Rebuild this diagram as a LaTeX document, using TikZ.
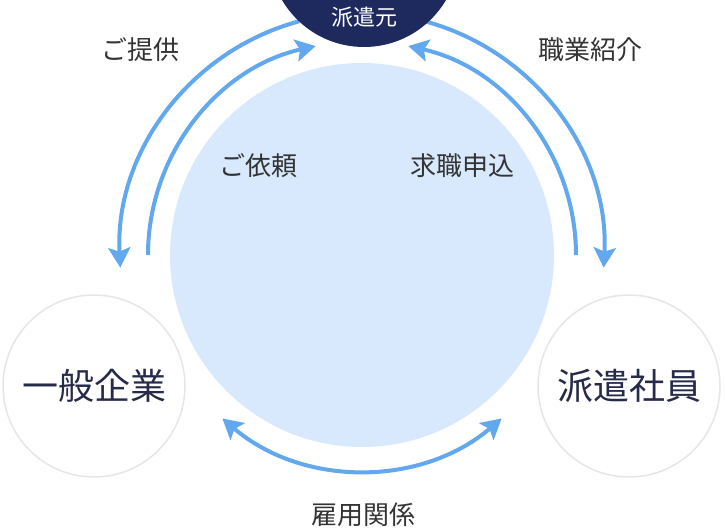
\documentclass[tikz,border=0pt]{standalone}
\usepackage{fontspec}
\setmainfont{Noto Sans CJK JP}
\usepackage{xcolor}
\definecolor{HakenNavy}{HTML}{1E2A5E}
\definecolor{ArrowBlue}{HTML}{62A8EE}
\definecolor{HubBlue}{HTML}{D8E9FD}
\definecolor{RingGray}{HTML}{E6E6E6}
\definecolor{LabelGray}{HTML}{333333}
\definecolor{PartyText}{HTML}{262B4A}
\usetikzlibrary{arrows.meta,positioning,calc}

\begin{document}
\begin{tikzpicture}[x=1pt,y=1pt, every node/.style={align=center, inner sep=0pt},
    party/.style={circle, draw=RingGray, line width=1.5pt, fill=white, minimum size=182pt, text=PartyText, font=\fontsize{36}{40}\selectfont},
    flowlabel/.style={text=LabelGray, font=\fontsize{26}{30}\selectfont},
    flowarrow/.style={draw=ArrowBlue, line width=4pt, -{Stealth[length=20pt, width=22pt, inset=4pt]}}]
        \useasboundingbox (0,0) rectangle (725,528);
        \clip (0,0) rectangle (725,528);
        \node[circle, fill=HubBlue, minimum size=384pt] (hub) at (362,273) {};
        \node[party] (kigyo) at (94,142) {一般企業};
        \node[party] (shain) at (629,142) {派遣社員};
        % arcs round the hub
        \draw[flowarrow] ([shift={(105:242)}]hub.center) arc[start angle=105, end angle=183, radius=242];
        \draw[flowarrow] ([shift={(180:214)}]hub.center) arc[start angle=180, end angle=102.5, radius=214];
        \draw[flowarrow] ([shift={(75:242)}]hub.center) arc[start angle=75, end angle=-3, radius=242];
        \draw[flowarrow] ([shift={(0:214)}]hub.center) arc[start angle=0, end angle=77.5, radius=214];
        \draw[flowarrow, {Stealth[length=20pt, width=22pt, inset=4pt]}-{Stealth[length=20pt, width=22pt, inset=4pt]}] ([shift={(229.5:215)}]hub.center) arc[start angle=229.5, end angle=310.5, radius=215];
        \node[circle, fill=HakenNavy, minimum size=190pt] (haken) at (364,576) {};
        \node[text=white, font=\fontsize{22}{26}\selectfont] (hakenlabel) at ([yshift=-65pt]haken.center) {派遣元};
        \node[flowlabel] (teikyo) at (140,478) {ご提供};
        \node[flowlabel] (shokai) at (590,478) {職業紹介};
        \node[flowlabel] (irai) at (258,362) {ご依頼};
        \node[flowlabel] (kyushoku) at (462,362) {求職申込};
        \node[flowlabel] (koyo) at (363,13) {雇用関係};
    \end{tikzpicture}
\end{document}
